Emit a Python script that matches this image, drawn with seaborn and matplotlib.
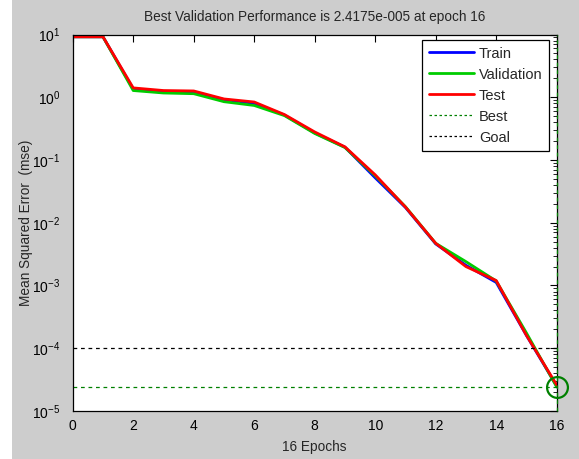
import numpy as np
import pandas as pd
import matplotlib
matplotlib.use("Agg")
import matplotlib.pyplot as plt
from matplotlib.patches import Rectangle
from matplotlib.lines import Line2D
from matplotlib.ticker import FixedLocator, LogFormatterSciNotation, NullFormatter
import seaborn as sns

# Training record: mean squared error per epoch
epochs = list(range(17))
train = [9.2, 9.2, 1.35, 1.24, 1.20, 0.92, 0.80, 0.52, 0.27, 0.16, 0.052,
         0.0175, 0.0046, 0.0021, 0.00112, 1.6e-4, 2.5e-5]
validation = [9.2, 9.2, 1.28, 1.17, 1.14, 0.85, 0.74, 0.51, 0.265, 0.158, 0.056,
              0.0180, 0.0047, 0.0024, 0.00118, 1.75e-4, 2.4175e-5]
test = [9.2, 9.2, 1.41, 1.28, 1.26, 0.94, 0.84, 0.53, 0.28, 0.162, 0.058,
        0.0178, 0.0047, 0.0020, 0.00120, 1.6e-4, 2.6e-5]
series_names = ["Train", "Validation", "Test"]
best_epoch = 16
best_perf = 2.4175e-5
goal = 1e-4

df = pd.DataFrame({
    "epoch": epochs * 3,
    "mse": train + validation + test,
    "set": [series_names[0]] * 17 + [series_names[1]] * 17 + [series_names[2]] * 17,
})

sns.set_theme(style="white")
plt.rcParams["font.family"] = ["Liberation Sans", "DejaVu Sans"]
plt.rcParams["mathtext.fontset"] = "custom"
plt.rcParams["mathtext.rm"] = "Liberation Sans"
plt.rcParams["mathtext.it"] = "Liberation Sans"

gray = "#CDCDCD"
fig = plt.figure(figsize=(5.79, 4.59), dpi=100, facecolor=gray)
fig.patches.append(Rectangle((0, 0), 12 / 579, 1, transform=fig.transFigure,
                             facecolor="white", edgecolor="none", zorder=0))
ax = fig.add_axes([0.1256, 0.1046, 0.8359, 0.8202])
ax.set_facecolor("white")

palette = {"Train": "#0000FF", "Validation": "#00CC00", "Test": "#FF0000"}
sns.lineplot(data=df, x="epoch", y="mse", hue="set", hue_order=series_names,
             palette=palette, linewidth=2, ax=ax, legend=False)

ax.set_yscale("log")
ax.set_xlim(0, 16)
ax.set_ylim(1e-5, 10)

best_col = (0, 0.5, 0)
ax.axhline(best_perf, color=best_col, linestyle=(0, (3, 3)), linewidth=0.9)
ax.axvline(best_epoch, color=best_col, linestyle=(0, (3, 3)), linewidth=0.9,
           zorder=5, clip_on=False)
ax.axhline(goal, color="black", linestyle=(0, (3, 3)), linewidth=0.9)
ax.plot([best_epoch], [best_perf], marker="o", markersize=15, markerfacecolor="none",
        markeredgecolor=best_col, markeredgewidth=1.6, clip_on=False, zorder=6)

# Legend proxies
handles = [
    Line2D([], [], color="#0000FF", lw=2),
    Line2D([], [], color="#00CC00", lw=2),
    Line2D([], [], color="#FF0000", lw=2),
    Line2D([], [], color=best_col, lw=0.9, linestyle=(0, (2, 2))),
    Line2D([], [], color="black", lw=0.9, linestyle=(0, (2, 2))),
]
leg = ax.legend(handles, series_names + ["Best", "Goal"], loc="upper right",
                bbox_to_anchor=(549 / 579, 1 - 40 / 459), bbox_transform=fig.transFigure,
                fontsize=10.5, frameon=True, fancybox=False, framealpha=1,
                edgecolor="black", handlelength=3.1, handletextpad=0.35,
                labelspacing=0.48, borderpad=0.45, borderaxespad=0)
leg.get_frame().set_linewidth(0.9)

# Decade ticks with minor ticks between them
decades = [10.0 ** k for k in range(-5, 2)]
minors = [m * d for d in decades[:-1] for m in range(2, 10)]
ax.set_xticks(range(0, 17, 2))
ax.yaxis.set_major_locator(FixedLocator(decades))
ax.yaxis.set_major_formatter(LogFormatterSciNotation())
ax.yaxis.set_minor_locator(FixedLocator(minors))
ax.yaxis.set_minor_formatter(NullFormatter())
ax.tick_params(axis="both", which="both", direction="in", top=True, right=True,
               colors="black", labelsize=10)
ax.tick_params(axis="both", which="major", length=5, width=0.8)
ax.tick_params(axis="y", which="minor", length=3, width=0.6)
ax.tick_params(axis="x", which="major", pad=5.5)
ax.tick_params(axis="y", which="major", pad=9)
for s in ax.spines.values():
    s.set_color("black")
    s.set_linewidth(0.9)

ax.set_title("Best Validation Performance is 2.4175e-005 at epoch 16", fontsize=9.8, pad=9.5)
ax.set_xlabel("16 Epochs", fontsize=9.8, labelpad=5)
ax.set_ylabel("Mean Squared Error  (mse)", fontsize=9.8, labelpad=-1)

fig.savefig("out.png", dpi=100, facecolor=fig.get_facecolor())
